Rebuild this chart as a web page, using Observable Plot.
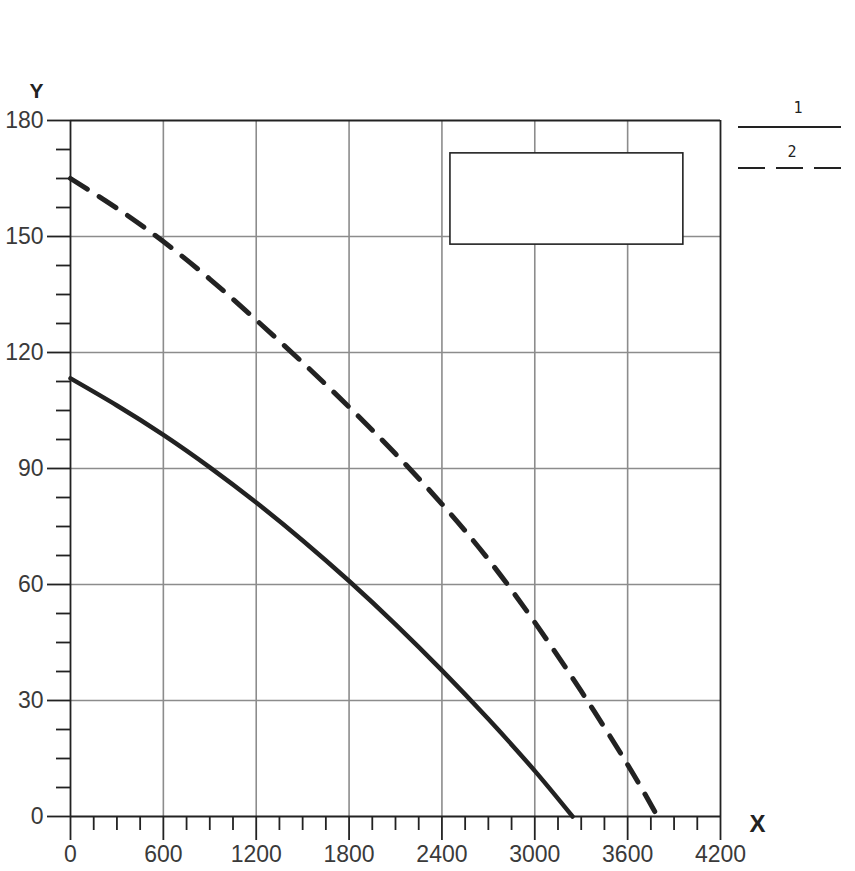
<!DOCTYPE html>
<html>
<head>
<meta charset="utf-8">
<script src="https://cdn.jsdelivr.net/npm/d3@7"></script>
<script src="https://cdn.jsdelivr.net/npm/@observablehq/plot@0.6"></script>
<style>
  html, body { margin: 0; padding: 0; background: #fff; }
  #chart { width: 855px; height: 871px; }
</style>
</head>
<body>
<div id="chart"></div>
<script>
// ---- Data ----
const curve1X = [0, 300, 600, 900, 1200, 1500, 1800, 2100, 2400, 2700, 3000, 3244];
const curve1Y = [113.3, 106.3, 98.7, 90.3, 81.2, 71.4, 60.9, 49.7, 37.8, 25.2, 11.8, 0];
const curve2X = [0, 300, 600, 900, 1200, 1500, 1800, 2100, 2400, 2700, 3000, 3300, 3600, 3793];
const curve2Y = [165, 157.3, 148.7, 139.0, 128.4, 117.4, 105.9, 93.8, 80.8, 66.5, 50.2, 32.4, 13.4, 0];

const xTicks = [0, 600, 1200, 1800, 2400, 3000, 3600, 4200];
const yTicks = [0, 30, 60, 90, 120, 150, 180];
const xGrid = [600, 1200, 1800, 2400, 3000, 3600];
const yGrid = [30, 60, 90, 120, 150];
const xMinor = d3.range(0, 4201, 150).filter(v => v % 600 !== 0);
const yMinor = d3.range(0, 181, 7.5).filter(v => v % 30 !== 0);

const boxX = [2455, 3960];
const boxY = [147.9, 171.5];

const legendLabels = ["1", "2"];
const axisNames = ["X", "Y"];

const series1 = curve1X.map((x, i) => ({x, y: curve1Y[i]}));
const series2 = curve2X.map((x, i) => ({x, y: curve2Y[i]}));
const boxData = [{x1: boxX[0], x2: boxX[1], y1: boxY[0], y2: boxY[1]}];

const ink = "#222";
const chart = Plot.plot({
  width: 855,
  height: 871,
  marginLeft: 70,
  marginRight: 135,
  marginTop: 120,
  marginBottom: 55,
  x: {domain: [0, 4200]},
  y: {domain: [0, 180]},
  style: {fontFamily: "'Liberation Sans', Arial, sans-serif", fontSize: "23px", background: "#fff", color: "#3a3a3a", overflow: "visible"},
  marks: [
    Plot.gridX(xGrid, {stroke: "#8c8c8c", strokeOpacity: 1, strokeWidth: 1.6}),
    Plot.gridY(yGrid, {stroke: "#8c8c8c", strokeOpacity: 1, strokeWidth: 1.6}),
    Plot.rect(boxData, {x1: "x1", x2: "x2", y1: "y1", y2: "y2", fill: "#fff", stroke: ink, strokeWidth: 1.6}),
    Plot.ruleY([0, 180], {stroke: ink, strokeWidth: 1.8}),
    Plot.ruleX([0, 4200], {stroke: ink, strokeWidth: 1.8}),
    Plot.axisX({ticks: xTicks, tickSize: 24, tickPadding: 5, fontSize: 23, label: null, stroke: ink, strokeWidth: 1.8, tickFormat: d => String(d)}),
    Plot.axisX({ticks: xMinor, tickSize: 14, tickFormat: () => "", label: null, stroke: ink, strokeWidth: 1.8}),
    Plot.axisY({ticks: yTicks, tickSize: 23, tickPadding: 4, fontSize: 23, label: null, stroke: ink, strokeWidth: 1.8}),
    Plot.axisY({ticks: yMinor, tickSize: 14, tickFormat: () => "", label: null, stroke: ink, strokeWidth: 1.8}),
    Plot.line(series1, {x: "x", y: "y", curve: "natural", stroke: ink, strokeWidth: 4.5}),
    Plot.line(series2, {x: "x", y: "y", curve: "natural", stroke: ink, strokeWidth: 5, strokeDasharray: "20,14", strokeLinecap: "round"}),
    Plot.text([axisNames[1]], {frameAnchor: "top-left", dx: -34, dy: -23, lineAnchor: "bottom", textAnchor: "middle", fontWeight: "bold", fontSize: 21, fill: ink}),
    Plot.text([axisNames[0]], {frameAnchor: "bottom-right", dx: 37, dy: 15, lineAnchor: "bottom", textAnchor: "middle", fontWeight: "bold", fontSize: 24, fill: ink})
  ]
});

const svg = d3.select(chart);
// enforce tick label size
svg.selectAll('g[aria-label="x-axis tick label"] text, g[aria-label="y-axis tick label"] text')
  .style("font-size", "23px").style("font-family", "'Liberation Sans', Arial, sans-serif");

// legend in the right margin
const lg = svg.append("g").attr("fill", ink);
lg.append("text").attr("x", 798).attr("y", 113).attr("text-anchor", "middle")
  .style("font-family", "'DejaVu Sans Mono', monospace").style("font-size", "15px").text(legendLabels[0]);
lg.append("line").attr("x1", 738).attr("x2", 841).attr("y1", 127).attr("y2", 127).attr("stroke", ink).attr("stroke-width", 1.8);
lg.append("text").attr("x", 792).attr("y", 157).attr("text-anchor", "middle")
  .style("font-family", "'DejaVu Sans Mono', monospace").style("font-size", "15px").text(legendLabels[1]);
lg.append("line").attr("x1", 738).attr("x2", 841).attr("y1", 168).attr("y2", 168).attr("stroke", ink).attr("stroke-width", 1.8).attr("stroke-dasharray", "27,11");

document.getElementById("chart").appendChild(chart);
</script>
</body>
</html>
